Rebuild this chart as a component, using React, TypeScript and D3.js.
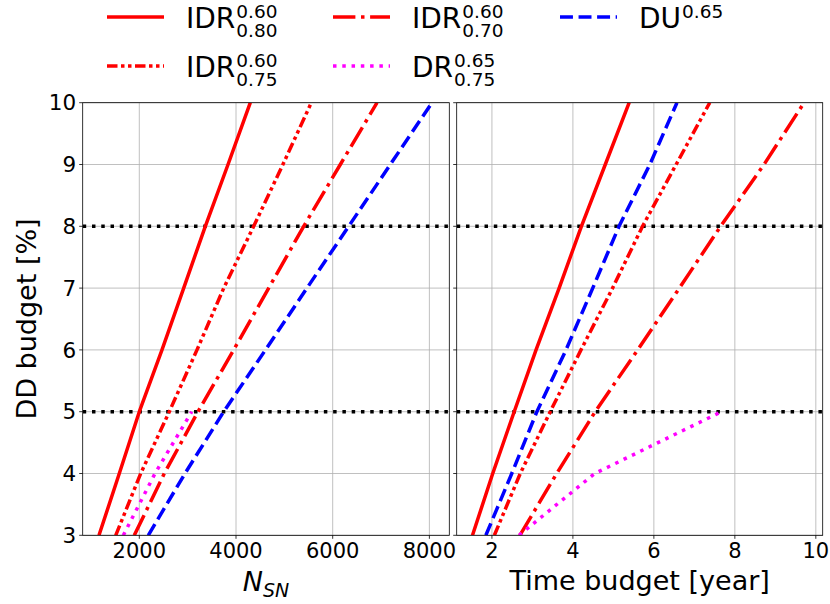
import { useEffect, useRef } from "react";
import * as d3 from "d3";

// DD budget [%] levels at which each curve was read
const ddBudget = [3, 4, 5, 6, 7, 8, 9, 10];
const ddBudgetDR = [3, 4, 5];
const ddLimits = [5, 8];

// number of SNe needed
const nsnIDR80 = [1166, 1586, 2000, 2469, 2918, 3365, 3835, 4296];
const nsnIDR75 = [1512, 2029, 2620, 3193, 3746, 4366, 4970, 5558];
const nsnIDR70 = [1896, 2517, 3214, 3952, 4676, 5400, 6158, 6917];
const nsnDU65 = [2186, 2945, 3745, 4610, 5467, 6331, 7192, 8054];
const nsnDR75 = [1669, 2325, 3084];

// time budget in years
const timeIDR80 = [1.52, 2.02, 2.55, 3.09, 3.66, 4.21, 4.8, 5.39];
const timeIDR75 = [2.06, 2.7, 3.44, 4.2, 4.98, 5.72, 6.55, 7.38];
const timeIDR70 = [2.69, 3.6, 4.55, 5.6, 6.63, 7.65, 8.72, 9.71];
const timeDU65 = [1.85, 2.49, 3.11, 3.83, 4.49, 5.14, 5.9, 6.57];
const timeDR75 = [2.67, 4.54, 7.67];

const nsnTicks = [2000, 4000, 6000, 8000];
const timeTicks = [2, 4, 6, 8, 10];
const ddTicks = [3, 4, 5, 6, 7, 8, 9, 10];

const LW = 3.5;
const styles = {
  idr80: { color: "red", dash: "none", base: "IDR", sup: "0.60", sub: "0.80" },
  idr75: { color: "red", dash: `${3 * LW},${LW},${LW},${LW},${LW},${LW}`, base: "IDR", sup: "0.60", sub: "0.75" },
  idr70: { color: "red", dash: `${6.4 * LW},${1.6 * LW},${LW},${1.6 * LW}`, base: "IDR", sup: "0.60", sub: "0.70" },
  dr75: { color: "magenta", dash: `${LW},${1.65 * LW}`, base: "DR", sup: "0.65", sub: "0.75" },
  du65: { color: "blue", dash: `${3.7 * LW},${1.6 * LW}`, base: "DU", sup: "0.65", sub: "" },
};

const FONT = "DejaVu Sans, sans-serif";

export default function App() {
  const ref = useRef<SVGSVGElement>(null);

  useEffect(() => {
    if (!ref.current) return;
    const svg = d3.select(ref.current);
    svg.selectAll("*").remove();

    const top = 102.7;
    const bottom = 535.3;
    const y = d3.scaleLinear().domain([3, 10]).range([bottom, top]);

    const panels = [
      {
        x: d3.scaleLinear().domain([829, 8412]).range([82.7, 449.3]),
        ticks: nsnTicks,
        series: [
          { key: "idr80", xs: nsnIDR80, ys: ddBudget },
          { key: "idr75", xs: nsnIDR75, ys: ddBudget },
          { key: "idr70", xs: nsnIDR70, ys: ddBudget },
          { key: "dr75", xs: nsnDR75, ys: ddBudgetDR },
          { key: "du65", xs: nsnDU65, ys: ddBudget },
        ],
        yLabels: true,
      },
      {
        x: d3.scaleLinear().domain([1.13, 10.17]).range([456.7, 822.7]),
        ticks: timeTicks,
        series: [
          { key: "idr80", xs: timeIDR80, ys: ddBudget },
          { key: "idr75", xs: timeIDR75, ys: ddBudget },
          { key: "idr70", xs: timeIDR70, ys: ddBudget },
          { key: "dr75", xs: timeDR75, ys: ddBudgetDR },
          { key: "du65", xs: timeDU65, ys: ddBudget },
        ],
        yLabels: false,
      },
    ];

    panels.forEach((p, i) => {
      const [x0, x1] = p.x.range();
      const g = svg.append("g");
      const clipId = `clip${i}`;
      g.append("clipPath").attr("id", clipId)
        .append("rect").attr("x", x0).attr("y", top).attr("width", x1 - x0).attr("height", bottom - top);

      // grid
      g.selectAll(".gx").data(p.ticks).enter().append("line")
        .attr("x1", d => p.x(d)).attr("x2", d => p.x(d)).attr("y1", top).attr("y2", bottom)
        .attr("stroke", "#b0b0b0").attr("stroke-width", 0.8);
      g.selectAll(".gy").data(ddTicks).enter().append("line")
        .attr("x1", x0).attr("x2", x1).attr("y1", d => y(d)).attr("y2", d => y(d))
        .attr("stroke", "#b0b0b0").attr("stroke-width", 0.8);

      const plot = g.append("g").attr("clip-path", `url(#${clipId})`);
      ddLimits.forEach(v => {
        plot.append("line").attr("x1", x0).attr("x2", x1).attr("y1", y(v)).attr("y2", y(v))
          .attr("stroke", "black").attr("stroke-width", LW)
          .attr("stroke-dasharray", `${LW},${1.65 * LW}`);
      });

      const line = d3.line<[number, number]>().x(d => p.x(d[0])).y(d => y(d[1]));
      p.series.forEach(s => {
        const st = (styles as any)[s.key];
        const pts = s.xs.map((v, j) => [v, s.ys[j]] as [number, number]);
        plot.append("path").attr("d", line(pts) as string)
          .attr("fill", "none").attr("stroke", st.color).attr("stroke-width", LW)
          .attr("stroke-dasharray", st.dash).attr("stroke-linejoin", "round");
      });

      // spines
      g.append("rect").attr("x", x0).attr("y", top).attr("width", x1 - x0).attr("height", bottom - top)
        .attr("fill", "none").attr("stroke", "black").attr("stroke-width", 0.8);

      // x ticks
      p.ticks.forEach(t => {
        g.append("line").attr("x1", p.x(t)).attr("x2", p.x(t)).attr("y1", bottom).attr("y2", bottom + 3.5)
          .attr("stroke", "black").attr("stroke-width", 0.8);
        g.append("text").attr("x", p.x(t)).attr("y", bottom + 23).attr("text-anchor", "middle")
          .attr("font-family", FONT).attr("font-size", 21).text(String(t));
      });
      // y ticks
      ddTicks.forEach(t => {
        g.append("line").attr("x1", x0 - 3.5).attr("x2", x0).attr("y1", y(t)).attr("y2", y(t))
          .attr("stroke", "black").attr("stroke-width", 0.8);
        if (p.yLabels) {
          g.append("text").attr("x", x0 - 6.5).attr("y", y(t)).attr("dy", "0.36em").attr("text-anchor", "end")
            .attr("font-family", FONT).attr("font-size", 21.5).text(String(t));
        }
      });
    });

    // axis labels
    svg.append("text").attr("transform", `translate(36,${(top + bottom) / 2}) rotate(-90)`)
      .attr("text-anchor", "middle").attr("font-family", FONT).attr("font-size", 27).text("DD budget [%]");
    svg.append("text").attr("x", 639.7).attr("y", 590).attr("text-anchor", "middle")
      .attr("font-family", FONT).attr("font-size", 27).text("Time budget [year]");
    const nLabel = svg.append("text").attr("x", 266).attr("y", 591).attr("text-anchor", "middle")
      .attr("font-family", FONT).attr("font-style", "italic").attr("font-size", 27);
    nLabel.append("tspan").text("N");
    nLabel.append("tspan").attr("dy", 6).attr("font-size", 19).text("SN");

    // legend
    const cols = [107, 333, 560];
    const rows = [17, 66];
    const order = ["idr80", "idr75", "idr70", "dr75", "du65"];
    order.forEach((k, i) => {
      const st = (styles as any)[k];
      const cx = cols[Math.floor(i / 2)];
      const cy = rows[i % 2];
      svg.append("line").attr("x1", cx).attr("x2", cx + 57).attr("y1", cy).attr("y2", cy)
        .attr("stroke", st.color).attr("stroke-width", LW).attr("stroke-dasharray", st.dash);
      const tx = cx + 79;
      const base = svg.append("text").attr("x", tx).attr("y", cy + 11)
        .attr("font-family", FONT).attr("font-size", 28).text(st.base);
      const w = (base.node() as SVGTextElement).getComputedTextLength();
      svg.append("text").attr("x", tx + w + 1).attr("y", cy + 0.5)
        .attr("font-family", FONT).attr("font-size", 18.5).text(st.sup);
      if (st.sub) {
        svg.append("text").attr("x", tx + w + 1).attr("y", cy + 20)
          .attr("font-family", FONT).attr("font-size", 18.5).text(st.sub);
      }
    });
  }, []);

  return (
    <svg ref={ref} width={830} height={604}
      style={{ position: "absolute", left: 0, top: 0, background: "white" }} />
  );
}
